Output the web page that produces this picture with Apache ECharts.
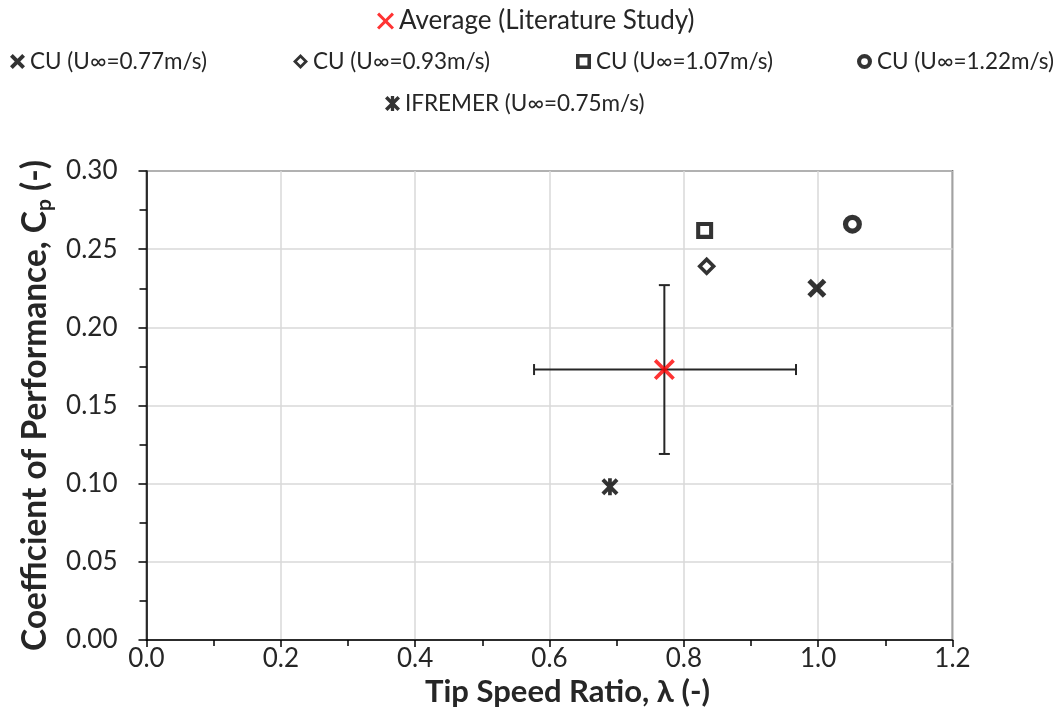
<!DOCTYPE html>
<html>
<head>
<meta charset="utf-8">
<script src="https://cdn.jsdelivr.net/npm/echarts@6/dist/echarts.min.js"></script>
<style>
  html, body { margin: 0; padding: 0; background: #ffffff; }
  #chart { width: 1056px; height: 724px; }
</style>
</head>
<body>
<div id="chart"></div>
<script>
// Series names
const nameAvg = 'Average (Literature Study)';
const nameCU077 = 'CU (U\u221E=0.77m/s)';
const nameCU093 = 'CU (U\u221E=0.93m/s)';
const nameCU107 = 'CU (U\u221E=1.07m/s)';
const nameCU122 = 'CU (U\u221E=1.22m/s)';
const nameIfremer = 'IFREMER (U\u221E=0.75m/s)';

// Points: [tip speed ratio, Cp]
const avgPoint = [0.771, 0.173];
const avgErrX = [0.577, 0.967];   // lambda range (low, high)
const avgErrY = [0.119, 0.227];   // Cp range (low, high)
const cu077 = [[0.998, 0.225]];
const cu093 = [[0.834, 0.239]];
const cu107 = [[0.831, 0.262]];
const cu122 = [[1.051, 0.266]];
const ifremer = [[0.690, 0.098]];

// Axis ranges
const xRange = [0, 1.2, 0.2];
const yRange = [0, 0.30, 0.05];

// Marker shapes (20x20 box, holes drawn with opposite winding)
function crossPath(d) {
  return 'path://M0 ' + d + 'L' + d + ' 0L10 ' + (10 - d) + 'L' + (20 - d) + ' 0L20 ' + d +
    'L' + (10 + d) + ' 10L20 ' + (20 - d) + 'L' + (20 - d) + ' 20L10 ' + (10 + d) +
    'L' + d + ' 20L0 ' + (20 - d) + 'L' + (10 - d) + ' 10Z';
}
function starPath(d, h) {
  return crossPath(d) + 'M' + (10 - h) + ' 0H' + (10 + h) + 'V20H' + (10 - h) + 'Z';
}
const symAvg = crossPath(2.5);
const symCU077 = crossPath(3.7);
const symCU093 = 'path://M10 0L20 10L10 20L0 10Z M10 5.3L5.3 10L10 14.7L14.7 10Z';
const symCU107 = 'path://M0 0H20V20H0Z M4.8 4.8V15.2H15.2V4.8Z';
const symCU122 = 'path://M10 0A10 10 0 1 1 10 20A10 10 0 1 1 10 0Z M10 5.5A4.5 4.5 0 1 0 10 14.5A4.5 4.5 0 1 0 10 5.5Z';
const symIfremer = starPath(3.3, 2.2);

const FONT = 'Lato, "Open Sans", sans-serif';
const TEXT_COLOR = '#262626';

function legendAt(name, icon, left, top, size, fontSize) {
  return {
    data: [{ name: name, icon: icon }],
    left: left, top: top, padding: 0,
    itemWidth: size, itemHeight: size,
    selectedMode: false,
    textStyle: { fontFamily: FONT, fontSize: fontSize, color: TEXT_COLOR }
  };
}

const chart = echarts.init(document.getElementById('chart'), null, { renderer: 'canvas' });

chart.setOption({
  animation: false,
  backgroundColor: '#ffffff',
  textStyle: { fontFamily: FONT },
  legend: [
    legendAt(nameAvg, symAvg, 377, 8, 17, 26),
    legendAt(nameCU077, symCU077, 10, 50, 15, 22.5),
    legendAt(nameCU093, symCU093, 293, 50, 15, 22.5),
    legendAt(nameCU107, symCU107, 576, 50, 15, 22.5),
    legendAt(nameCU122, symCU122, 857, 50, 15, 22.5),
    legendAt(nameIfremer, symIfremer, 385, 92, 15, 22.5)
  ],
  grid: {
    left: 146.5, right: 103.5, top: 171, bottom: 84,
    show: true, borderColor: '#000', borderWidth: 1.5, backgroundColor: 'transparent'
  },
  xAxis: {
    type: 'value',
    min: xRange[0], max: xRange[1], interval: xRange[2],
    name: 'Tip Speed Ratio, \u03BB (-)',
    nameLocation: 'middle', nameGap: 34,
    nameTextStyle: { fontFamily: FONT, fontSize: 31, fontWeight: 'bold', color: TEXT_COLOR, padding: [0, 0, 0, 36] },
    axisLine: { show: true, onZero: false, lineStyle: { color: '#000', width: 1.5 } },
    axisTick: { show: true, inside: false, length: 7, lineStyle: { color: '#000', width: 1.5 } },
    minorTick: { show: true, splitNumber: 2, length: 6, lineStyle: { color: '#000', width: 1.5 } },
    axisLabel: {
      fontFamily: FONT, fontSize: 26, color: TEXT_COLOR, margin: 6,
      formatter: v => v.toFixed(1)
    },
    splitLine: { show: true, lineStyle: { color: '#d9d9d9', width: 1.5 } }
  },
  yAxis: {
    type: 'value',
    min: yRange[0], max: yRange[1], interval: yRange[2],
    name: '{t|Coefficient of Performance, C}{s|p}{t| (-)}',
    nameLocation: 'middle', nameGap: 84, nameRotate: 90,
    nameTextStyle: {
      rich: {
        t: { fontFamily: FONT, fontSize: 33.5, fontWeight: 'bold', color: TEXT_COLOR, lineHeight: 40 },
        s: { fontFamily: FONT, fontSize: 21, fontWeight: 'bold', color: TEXT_COLOR, lineHeight: 21, verticalAlign: 'bottom' }
      }
    },
    axisLine: { show: true, onZero: false, lineStyle: { color: '#000', width: 1.5 } },
    axisTick: { show: true, inside: false, length: 8, lineStyle: { color: '#000', width: 1.5 } },
    minorTick: { show: true, splitNumber: 2, length: 7, lineStyle: { color: '#000', width: 1.5 } },
    axisLabel: {
      fontFamily: FONT, fontSize: 26, color: TEXT_COLOR, margin: 29,
      formatter: v => v.toFixed(2)
    },
    splitLine: { show: true, lineStyle: { color: '#d9d9d9', width: 1.5 } }
  },
  series: [
    {
      type: 'custom',
      name: 'range',
      z: 2, silent: true,
      data: [[avgPoint[0], avgPoint[1], avgErrX[0], avgErrX[1], avgErrY[0], avgErrY[1]]],
      encode: { x: [0, 2, 3], y: [1, 4, 5] },
      renderItem: function (params, api) {
        const x = api.value(0), y = api.value(1);
        const l = api.coord([api.value(2), y]);
        const r = api.coord([api.value(3), y]);
        const b = api.coord([x, api.value(4)]);
        const t = api.coord([x, api.value(5)]);
        const cap = 5.5;
        const style = { stroke: '#262626', lineWidth: 2, fill: null };
        const seg = (x1, y1, x2, y2) => ({ type: 'line', shape: { x1, y1, x2, y2 }, style });
        return {
          type: 'group',
          children: [
            seg(l[0], l[1], r[0], r[1]),
            seg(l[0], l[1] - cap, l[0], l[1] + cap),
            seg(r[0], r[1] - cap, r[0], r[1] + cap),
            seg(b[0], b[1], t[0], t[1]),
            seg(b[0] - cap, b[1], b[0] + cap, b[1]),
            seg(t[0] - cap, t[1], t[0] + cap, t[1])
          ]
        };
      }
    },
    { type: 'scatter', name: nameAvg, data: [avgPoint], symbol: symAvg, symbolSize: 21, itemStyle: { color: '#ff0000' }, z: 5 },
    { type: 'scatter', name: nameCU077, data: cu077, symbol: symCU077, symbolSize: 19, itemStyle: { color: '#000' }, z: 5 },
    { type: 'scatter', name: nameCU093, data: cu093, symbol: symCU093, symbolSize: 19, itemStyle: { color: '#000' }, z: 5 },
    { type: 'scatter', name: nameCU107, data: cu107, symbol: symCU107, symbolSize: 17, itemStyle: { color: '#000' }, z: 5 },
    { type: 'scatter', name: nameCU122, data: cu122, symbol: symCU122, symbolSize: 19, itemStyle: { color: '#000' }, z: 5 },
    { type: 'scatter', name: nameIfremer, data: ifremer, symbol: symIfremer, symbolSize: 17, itemStyle: { color: '#000' }, z: 5 }
  ]
});
</script>
</body>
</html>
